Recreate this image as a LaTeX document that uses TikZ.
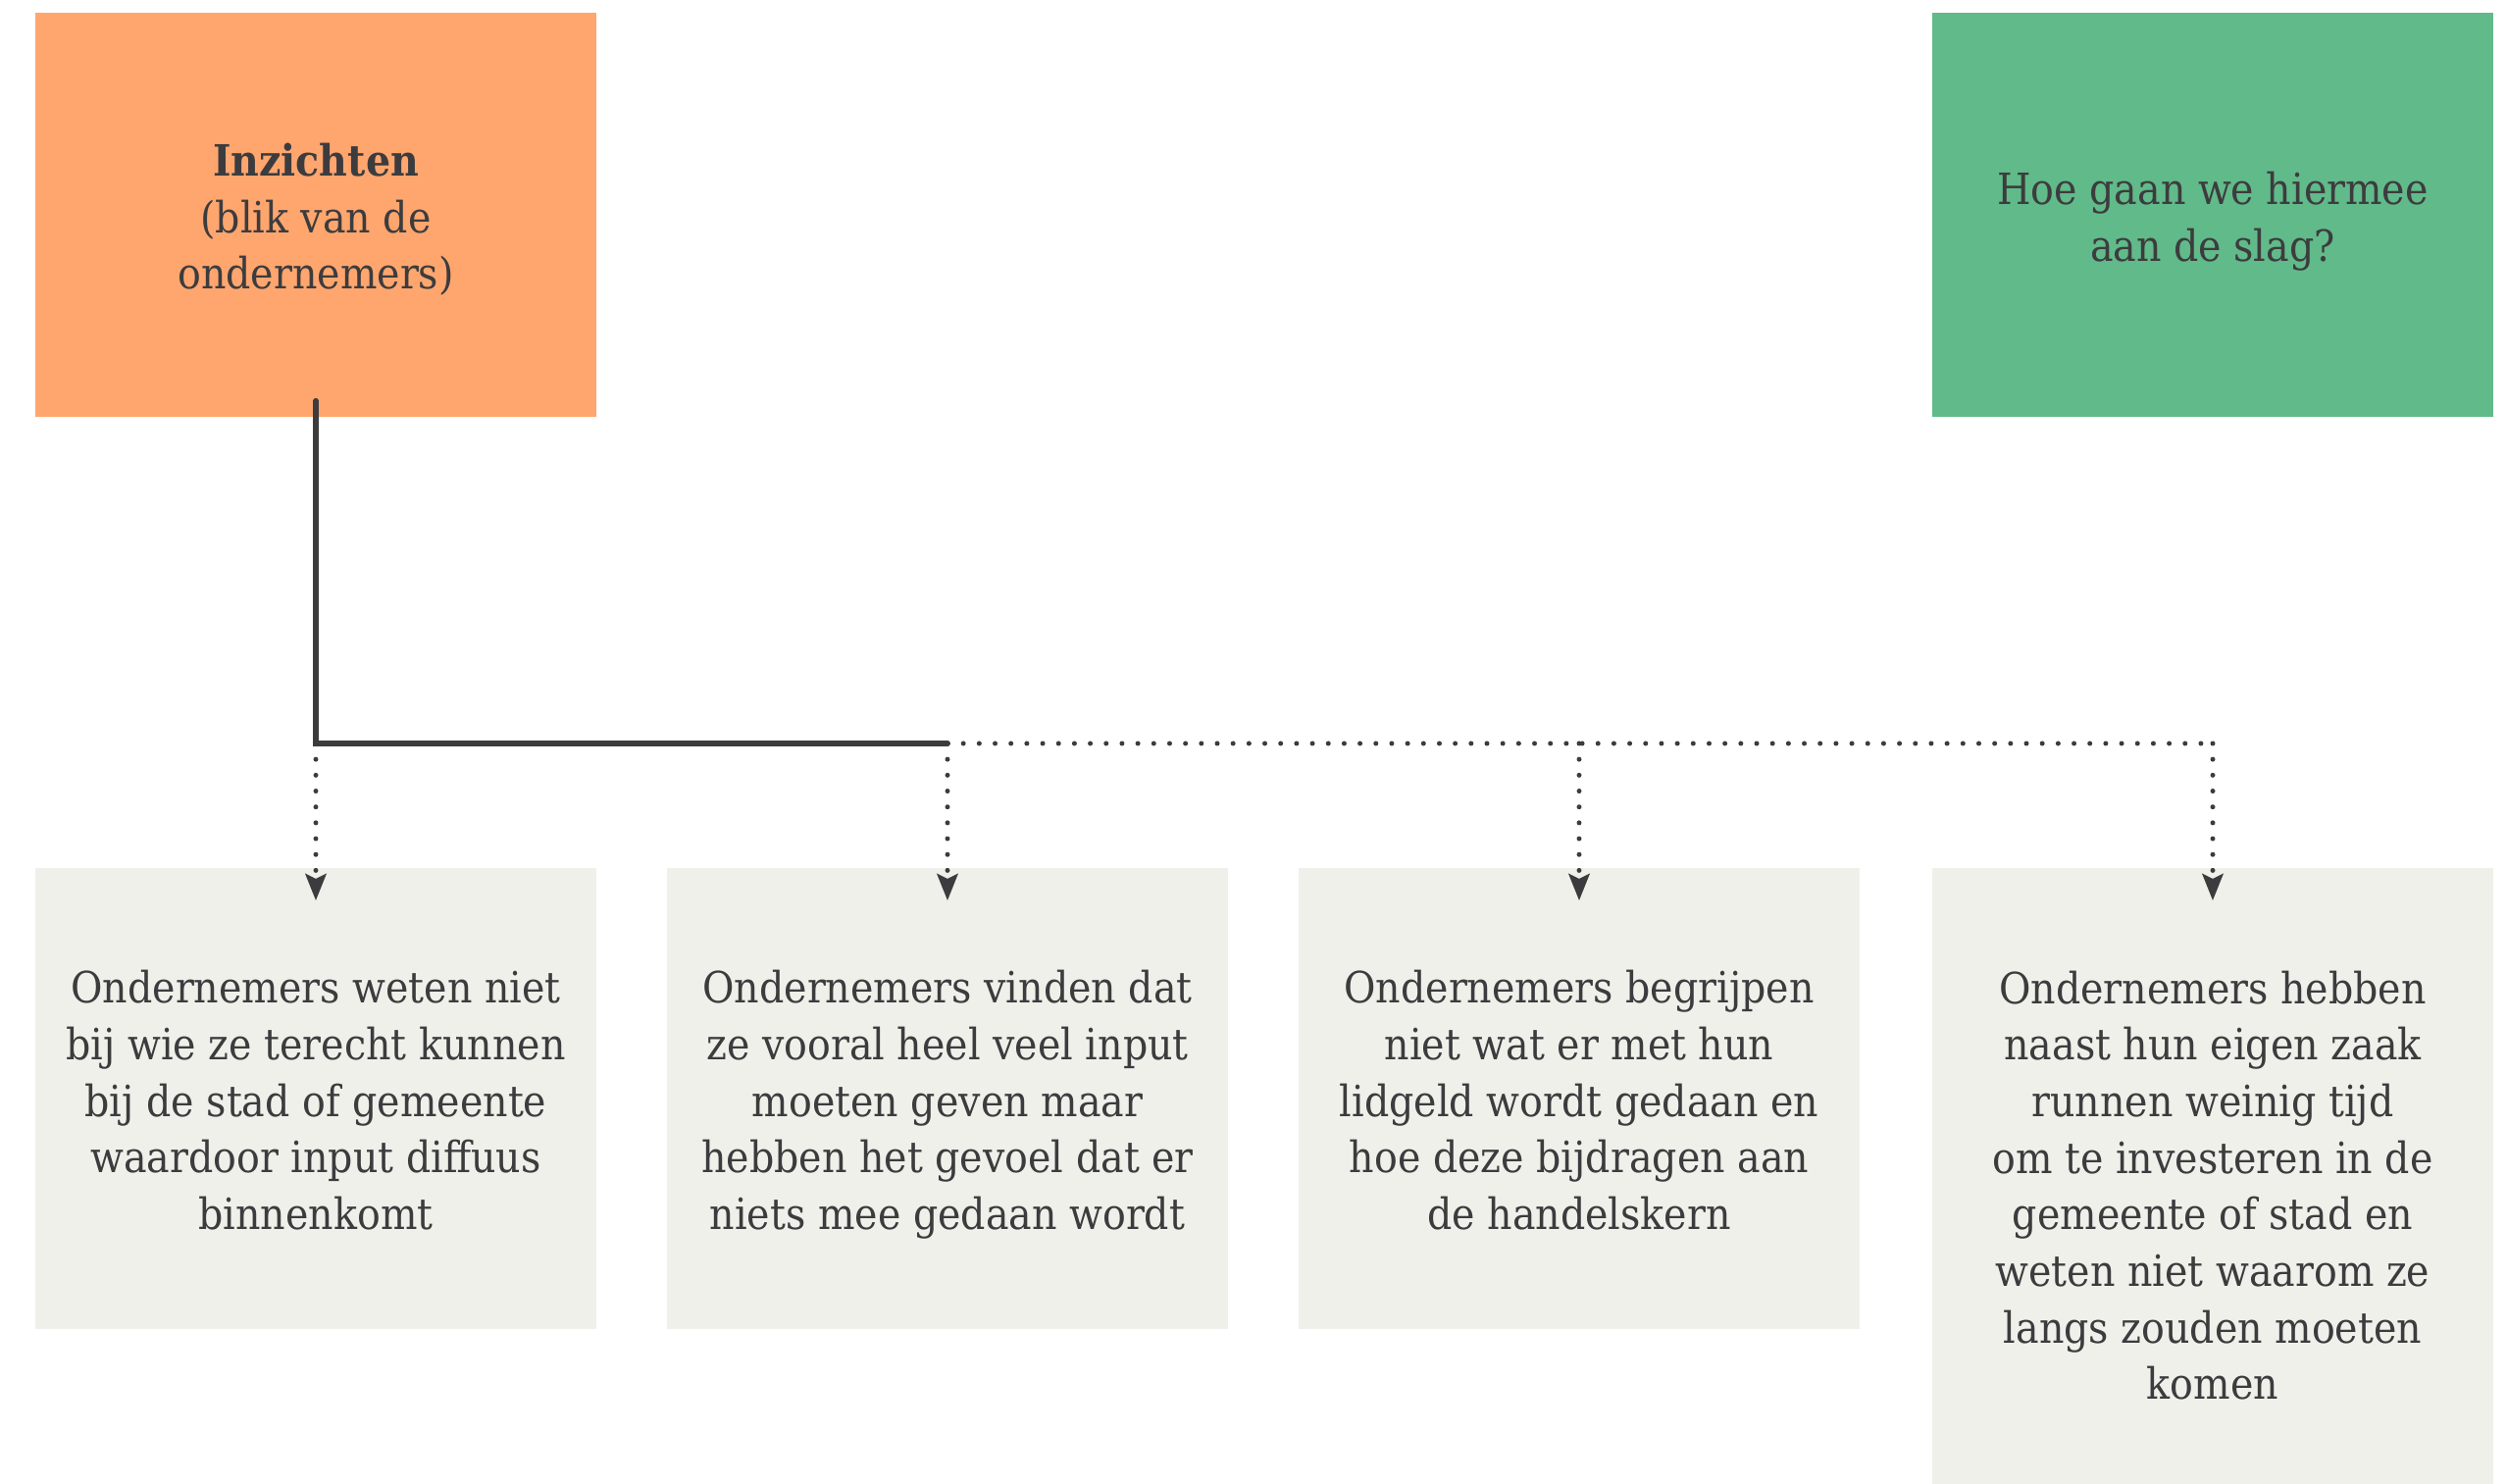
\documentclass[tikz,border=0pt]{standalone}
\usepackage{fontspec}
\setmainfont{DejaVu Serif}[FakeStretch=0.9]
\usetikzlibrary{arrows.meta,calc}

\definecolor{inkgrey}{HTML}{3C3C3E}
\definecolor{insightorange}{HTML}{FFA66E}
\definecolor{actiongreen}{HTML}{61BA89}
\definecolor{findinggrey}{HTML}{F0F0EB}

% extra room above the first line of a tile
\newcommand{\padtop}[1]{\rule{0pt}{#1}}

\tikzset{
  tile/.style={inner sep=0pt, minimum width=5.72cm, align=center, text=inkgrey,
    font=\fontsize{12.5}{16.4}\selectfont},
  headtile/.style={tile, minimum height=4.12cm},
  findingtile/.style={tile, fill=findinggrey, minimum height=4.7cm, execute at end node=\strut},
  trunk/.style={draw=inkgrey, line width=1.7pt, line cap=round},
  dotline/.style={draw=inkgrey, line width=1.42pt, line cap=round, dash pattern=on 0pt off 4.6pt},
  droptip/.style={-{Stealth[length=7.7pt, width=6pt, inset=1.4pt, inkgrey]}}
}

\begin{document}
\begin{tikzpicture}[x=0.01cm, y=-0.01cm]
    \useasboundingbox (0,0) rectangle (2556,1513);
    % top row
    \node[headtile, fill=insightorange] (inz) at (322,219) {\padtop{12.3pt}\textbf{Inzichten}\\(blik van de\\ondernemers)};
    \node[headtile, fill=actiongreen] (aanpak) at (2256,219) {\padtop{13.2pt}Hoe gaan we hiermee\\aan de slag?};
    % findings
    \node[findingtile] (b1) at (322,1120) {\padtop{15.2pt}Ondernemers weten niet\\bij wie ze terecht kunnen\\bij de stad of gemeente\\waardoor input diffuus\\binnenkomt};
    \node[findingtile] (b2) at (966,1120) {\padtop{15.2pt}Ondernemers vinden dat\\ze vooral heel veel input\\moeten geven maar\\hebben het gevoel dat er\\niets mee gedaan wordt};
    \node[findingtile] (b3) at (1610,1120) {\padtop{15.2pt}Ondernemers begrijpen\\niet wat er met hun\\lidgeld wordt gedaan en\\hoe deze bijdragen aan\\de handelskern};
    \node[findingtile, minimum height=6.44cm] (b4) at (2256,1207) {\padtop{15.2pt}Ondernemers hebben\\naast hun eigen zaak\\runnen weinig tijd\\om te investeren in de\\gemeente of stad en\\weten niet waarom ze\\langs zouden moeten\\komen};
    % connectors
    \coordinate (split) at (322,758);
    \coordinate (bend) at (966,758);
    \coordinate (last) at (2256,758);
    \draw[trunk] ($(inz.south)+(0,-17)$) -- (split) -- (bend);
    \draw[dotline] (bend) -- (last);
    \foreach \b in {b1,b2,b3,b4} {\draw[dotline, droptip] (\b.north |- split) -- ($(\b.north)+(0,34)$);}
\end{tikzpicture}
\end{document}
